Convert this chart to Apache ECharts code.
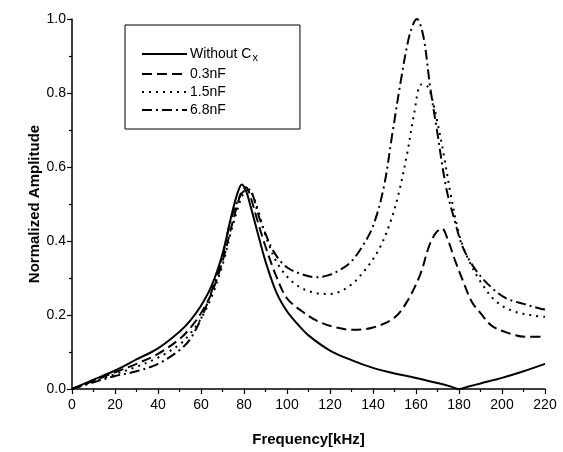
<!DOCTYPE html>
<html>
<head>
<meta charset="utf-8">
<script src="https://cdn.jsdelivr.net/npm/echarts@6/dist/echarts.min.js"></script>
<style>
  html, body { margin: 0; padding: 0; background: #fff; }
  #chart { width: 563px; height: 452px; }
</style>
</head>
<body>
<div id="chart"></div>
<script>
// Frequency response, normalized amplitude vs. frequency (kHz)
const seriesNames = ['Without Cx', '0.3nF', '1.5nF', '6.8nF'];

const freqNone = [0, 10, 20, 30, 40, 50, 55, 60, 65, 70, 74, 77, 79, 81, 83, 86, 90, 95, 100, 105, 110, 120, 130, 140, 150, 160, 170, 176, 180, 184, 190, 200, 210, 220];
const ampNone  = [0, 0.025, 0.05, 0.08, 0.11, 0.155, 0.185, 0.225, 0.28, 0.365, 0.465, 0.53, 0.553, 0.535, 0.495, 0.43, 0.345, 0.262, 0.21, 0.175, 0.145, 0.104, 0.078, 0.057, 0.042, 0.030, 0.016, 0.007, 0.0, 0.006, 0.015, 0.030, 0.048, 0.068];

const freq03 = [0, 10, 20, 30, 40, 50, 55, 60, 65, 70, 74, 77, 79, 81, 83, 86, 90, 95, 100, 107, 114, 123, 131, 140, 150, 156, 162, 166, 169, 172, 175, 178, 182, 186, 190, 195, 202, 211, 220];
const amp03  = [0, 0.022, 0.045, 0.068, 0.095, 0.135, 0.165, 0.205, 0.26, 0.345, 0.435, 0.50, 0.535, 0.545, 0.52, 0.46, 0.385, 0.305, 0.245, 0.21, 0.184, 0.166, 0.16, 0.166, 0.193, 0.238, 0.31, 0.385, 0.42, 0.434, 0.40, 0.35, 0.29, 0.235, 0.205, 0.172, 0.153, 0.141, 0.141];

const freq15 = [0, 10, 20, 30, 40, 50, 55, 60, 65, 70, 74, 78, 80, 82, 84, 87, 90, 96, 104, 113, 120, 129, 137, 143, 148, 152, 156, 159, 162.5, 165, 167, 170, 173, 176, 180, 184, 190, 197, 205, 215, 220];
const amp15  = [0, 0.02, 0.04, 0.06, 0.085, 0.12, 0.15, 0.19, 0.25, 0.335, 0.425, 0.505, 0.53, 0.538, 0.525, 0.475, 0.415, 0.335, 0.283, 0.26, 0.257, 0.278, 0.327, 0.38, 0.45, 0.53, 0.64, 0.74, 0.823, 0.82, 0.795, 0.72, 0.63, 0.53, 0.42, 0.355, 0.29, 0.238, 0.211, 0.198, 0.195];

const freq68 = [0, 10, 20, 30, 40, 50, 55, 60, 65, 70, 74, 78, 80, 82, 84, 87, 90, 93, 97, 101, 107, 113, 119, 125, 130, 135, 140, 145, 149, 153, 156.5, 159, 160.5, 162, 164, 166.5, 170, 174, 178, 182, 188, 195, 202, 210, 218, 220];
const amp68  = [0, 0.018, 0.035, 0.048, 0.068, 0.105, 0.135, 0.19, 0.265, 0.36, 0.46, 0.52, 0.535, 0.54, 0.525, 0.465, 0.42, 0.38, 0.345, 0.325, 0.31, 0.302, 0.307, 0.323, 0.345, 0.385, 0.44, 0.545, 0.69, 0.835, 0.945, 0.99, 1.0, 0.985, 0.935, 0.82, 0.69, 0.545, 0.455, 0.38, 0.32, 0.275, 0.245, 0.23, 0.217, 0.215];

const xTicks = { min: 0, max: 220, interval: 20 };
const yTicks = { min: 0, max: 1.0, interval: 0.2 };

const FONT = '"Liberation Sans", Arial, sans-serif';

function pairs(xs, ys) {
  return xs.map((x, i) => [x, ys[i]]);
}

const lineTypes = ['solid', [10, 5], [2, 5], [10, 4, 2, 4]];
const dataSets = [
  pairs(freqNone, ampNone),
  pairs(freq03, amp03),
  pairs(freq15, amp15),
  pairs(freq68, amp68)
];

const chart = echarts.init(document.getElementById('chart'), null, { renderer: 'canvas' });

chart.setOption({
  animation: false,
  backgroundColor: '#ffffff',
  grid: { left: 72, right: 18, top: 19, bottom: 60 },
  legend: {
    orient: 'vertical',
    left: 125,
    top: 25,
    padding: [22, 42, 12, 16],
    itemGap: 4,
    itemWidth: 45,
    itemHeight: 14,
    borderColor: '#000',
    borderWidth: 1,
    data: seriesNames,
    itemStyle: { opacity: 0 },
    lineStyle: { width: 2 },
    formatter: function (name) {
      return name === 'Without Cx' ? 'Without C{sub|x}' : name;
    },
    textStyle: {
      fontFamily: FONT,
      fontSize: 14,
      color: '#000',
      padding: [0, 0, 0, -2],
      rich: {
        sub: { fontFamily: FONT, fontSize: 11, color: '#000', padding: [7, 0, 0, 1] }
      }
    }
  },
  xAxis: {
    type: 'value',
    min: xTicks.min,
    max: xTicks.max,
    interval: xTicks.interval,
    name: 'Frequency[kHz]',
    nameLocation: 'middle',
    nameGap: 43,
    nameMoveOverlap: false,
    nameTextStyle: { fontFamily: FONT, fontSize: 15, fontWeight: 'bold', color: '#000' },
    axisLine: { onZero: false, lineStyle: { color: '#000', width: 1.5 } },
    axisTick: { inside: false, length: 5, lineStyle: { color: '#000', width: 1.2 } },
    minorTick: { show: true, splitNumber: 2, length: 3, lineStyle: { color: '#000', width: 1.2 } },
    axisLabel: { fontFamily: FONT, fontSize: 14, color: '#000', margin: 9 },
    splitLine: { show: false }
  },
  yAxis: {
    type: 'value',
    min: yTicks.min,
    max: yTicks.max,
    interval: yTicks.interval,
    name: 'Normalized Amplitude',
    nameLocation: 'middle',
    nameGap: 30,
    nameMoveOverlap: false,
    nameTextStyle: { fontFamily: FONT, fontSize: 15, fontWeight: 'bold', color: '#000' },
    axisLine: { show: true, lineStyle: { color: '#000', width: 1.5 } },
    axisTick: { show: true, inside: false, length: 5, lineStyle: { color: '#000', width: 1.2 } },
    minorTick: { show: true, splitNumber: 2, length: 3, lineStyle: { color: '#000', width: 1.2 } },
    axisLabel: {
      fontFamily: FONT, fontSize: 14, color: '#000', margin: 6,
      formatter: v => v.toFixed(1)
    },
    splitLine: { show: false }
  },
  series: seriesNames.map((name, i) => ({
    name: name,
    type: 'line',
    data: dataSets[i],
    symbol: 'none',
    smooth: 0.35,
    color: '#000',
    lineStyle: { color: '#000', width: 2, type: lineTypes[i] },
    z: 4 - i
  }))
});
</script>
</body>
</html>
